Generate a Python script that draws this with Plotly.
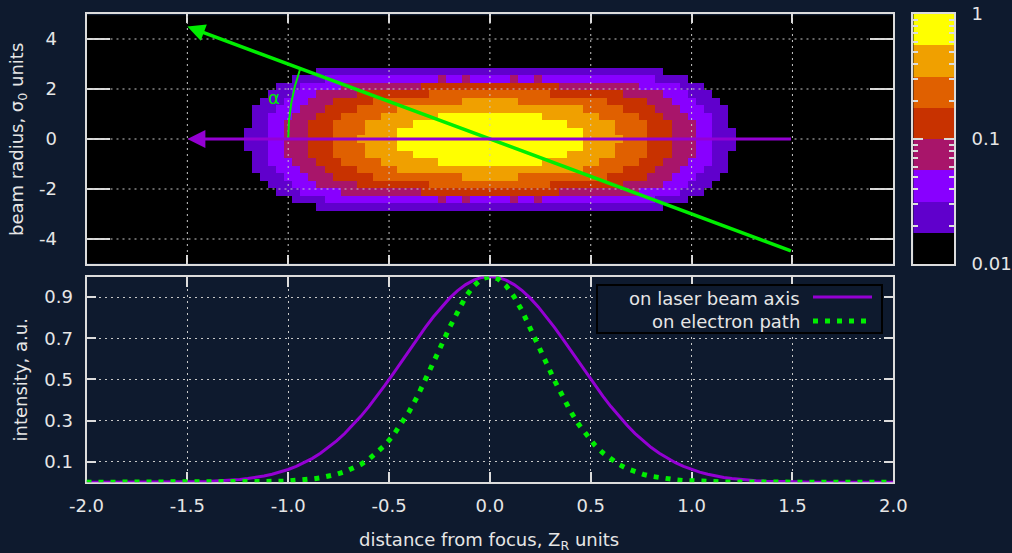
import numpy as np
import plotly.graph_objects as go

# ---------------- data ----------------
z_dist = [round(-2.0 + 0.04 * i, 2) for i in range(101)]

laser_axis = [0, 0, 0, 0, 0.0001, 0.0001, 0.0002, 0.0003, 0.0004, 0.0006,
              0.0008, 0.0012, 0.0016, 0.0023, 0.0032, 0.0043, 0.0059, 0.0079, 0.0106, 0.0140,
              0.0183, 0.0238, 0.0307, 0.0392, 0.0496, 0.0622, 0.0773, 0.0953, 0.1163, 0.1409,
              0.1690, 0.2010, 0.2369, 0.2768, 0.3205, 0.3679, 0.4185, 0.4718, 0.5273, 0.5841,
              0.6412, 0.6977, 0.7525, 0.8043, 0.8521, 0.8948, 0.9314, 0.9608, 0.9824, 0.9956,
              1.0,
              0.9956, 0.9824, 0.9608, 0.9314, 0.8948, 0.8521, 0.8043, 0.7525, 0.6977, 0.6412,
              0.5841, 0.5273, 0.4718, 0.4185, 0.3679, 0.3205, 0.2768, 0.2369, 0.2010, 0.1690,
              0.1409, 0.1163, 0.0953, 0.0773, 0.0622, 0.0496, 0.0392, 0.0307, 0.0238, 0.0183,
              0.0140, 0.0106, 0.0079, 0.0059, 0.0043, 0.0032, 0.0023, 0.0016, 0.0012, 0.0008,
              0.0006, 0.0004, 0.0003, 0.0002, 0.0001, 0.0001, 0, 0, 0, 0]

electron_path = [0, 0, 0, 0, 0, 0, 0, 0, 0, 0,
                 0, 0, 0.0001, 0.0001, 0.0002, 0.0002, 0.0003, 0.0004, 0.0006, 0.0009,
                 0.0013, 0.0018, 0.0025, 0.0035, 0.0048, 0.0066, 0.0089, 0.0121, 0.0163, 0.0219,
                 0.0292, 0.0387, 0.0510, 0.0667, 0.0867, 0.1118, 0.1429, 0.1810, 0.2270, 0.2815,
                 0.3447, 0.4163, 0.4954, 0.5799, 0.6669, 0.7526, 0.8325, 0.9013, 0.9547, 0.9885,
                 1.0,
                 0.9885, 0.9547, 0.9013, 0.8325, 0.7526, 0.6669, 0.5799, 0.4954, 0.4163, 0.3447,
                 0.2815, 0.2270, 0.1810, 0.1429, 0.1118, 0.0867, 0.0667, 0.0510, 0.0387, 0.0292,
                 0.0219, 0.0163, 0.0121, 0.0089, 0.0066, 0.0048, 0.0035, 0.0025, 0.0018, 0.0013,
                 0.0009, 0.0006, 0.0004, 0.0003, 0.0002, 0.0002, 0.0001, 0.0001, 0, 0,
                 0, 0, 0, 0, 0, 0, 0, 0, 0, 0]

# beam radius (sigma_0 units)
beam_width = [3.00, 2.92, 2.84, 2.77, 2.69, 2.62, 2.55, 2.48, 2.41, 2.34,
              2.28, 2.22, 2.16, 2.10, 2.04, 1.98, 1.92, 1.87, 1.82, 1.77,
              1.72, 1.67, 1.63, 1.58, 1.54, 1.50, 1.46, 1.42, 1.39, 1.35,
              1.32, 1.29, 1.26, 1.23, 1.20, 1.18, 1.16, 1.14, 1.12, 1.10,
              1.08, 1.06, 1.05, 1.04, 1.03, 1.02, 1.01, 1.01, 1.00, 1.00,
              1.00,
              1.00, 1.00, 1.01, 1.01, 1.02, 1.03, 1.04, 1.05, 1.06, 1.08,
              1.10, 1.12, 1.14, 1.16, 1.18, 1.20, 1.23, 1.26, 1.29, 1.32,
              1.35, 1.39, 1.42, 1.46, 1.50, 1.54, 1.58, 1.63, 1.67, 1.72,
              1.77, 1.82, 1.87, 1.92, 1.98, 2.04, 2.10, 2.16, 2.22, 2.28,
              2.34, 2.41, 2.48, 2.55, 2.62, 2.69, 2.77, 2.84, 2.92, 3.00]

r_grid = [round(-4.8 + 0.3 * i, 1) for i in range(33)]

x_ticks = [-2.0, -1.5, -1.0, -0.5, 0.0, 0.5, 1.0, 1.5, 2.0]
x_grid = [-1.5, -1.0, -0.5, 0.0, 0.5, 1.0, 1.5]
r_ticks = [-4, -2, 0, 2, 4]
int_ticks = [0.1, 0.3, 0.5, 0.7, 0.9]
cbar_major = [-2, -1, 0]
cbar_labels = ["0.01", "0.1", "1"]
band_colors = ["#000000", "#6000cc", "#8800ff", "#a8156a",
               "#c83200", "#e06000", "#f0a000", "#ffff00"]

electron_arrow_z = [1.5, -1.5]
electron_arrow_r = [-4.5, 4.5]
laser_arrow_z = [1.5, -1.5]
laser_arrow_r = [0.0, 0.0]

# ---------------- styling ----------------
BG = "#0e1a2e"
FG = "#e6e6e6"
FRAME = "#dcdcdc"
GRID = "#c8c8c8"
PURPLE = "#9400d3"
GREEN = "#00ee00"
FONT = "DejaVu Sans, Verdana, sans-serif"
W_PX, H_PX = 1012, 553


def px(x):
    return x / W_PX


def py(y):
    return 1 - y / H_PX


XDOM = [px(86.5), px(893.3)]
TOPDOM = [py(264), py(14)]
BOTDOM = [py(482.3), py(276.5)]
CBXDOM = [px(913.3), px(954)]

# heatmap field
A = np.array(laser_axis)
Wd = np.array(beam_width)
R = np.array(r_grid)[:, None]
I = A[None, :] * np.exp(-R ** 2 / (2 * Wd[None, :] ** 2))
logI = np.log10(np.maximum(I, 1e-6))

cs = []
n = len(band_colors)
for k, c in enumerate(band_colors):
    cs.append([k / n, c])
    cs.append([(k + 1) / n, c])

fig = go.Figure()
fig.add_trace(go.Heatmap(x=z_dist, y=r_grid, z=logI, zmin=-2, zmax=0,
                         colorscale=cs, showscale=False, zsmooth=False,
                         xaxis="x", yaxis="y", hoverinfo="skip"))

# bottom curves
fig.add_trace(go.Scatter(x=z_dist, y=laser_axis, mode="lines",
                         line=dict(color=PURPLE, width=3),
                         xaxis="x2", yaxis="y2", cliponaxis=False, showlegend=False))
fig.add_trace(go.Scatter(x=z_dist, y=electron_path, mode="lines",
                         line=dict(color=GREEN, width=5, dash="5px,7px"),
                         xaxis="x2", yaxis="y2", cliponaxis=False, showlegend=False))

# manual colorbar
band_centers = [-2 + 0.25 * (k + 0.5) for k in range(n)]
fig.add_trace(go.Heatmap(x=[0.5], y=band_centers, z=[[v] for v in band_centers],
                         zmin=-2, zmax=0, colorscale=cs, showscale=False,
                         xaxis="x3", yaxis="y3", hoverinfo="skip"))

minor_vals = [float(np.log10(m * 10.0 ** e)) for e in (-2, -1) for m in range(2, 10)]

axis_common = dict(showline=True, linecolor=FRAME, linewidth=2, mirror="ticks",
                   ticks="inside", tickcolor=FRAME, tickwidth=2, zeroline=False,
                   automargin=False)

fig.update_layout(
    width=W_PX, height=H_PX, autosize=False,
    margin=dict(l=0, r=0, t=0, b=0, pad=0, autoexpand=False),
    paper_bgcolor=BG, plot_bgcolor=BG,
    font=dict(family=FONT, size=18, color=FG),
    showlegend=False,
    xaxis=dict(domain=XDOM, anchor="y", range=[-2, 2], tickvals=x_ticks,
               showticklabels=False, ticklen=9, showgrid=False,
               layer="above traces", **axis_common),
    yaxis=dict(domain=TOPDOM, anchor="x", range=[-5, 5], tickvals=r_ticks,
               ticktext=[str(v) for v in r_ticks],
               ticklen=23, showgrid=False, layer="above traces",
               ticklabelstandoff=24, **axis_common),
    xaxis2=dict(domain=XDOM, anchor="y2", range=[-2, 2], tickvals=x_ticks,
                ticktext=[f"{v:.1f}" for v in x_ticks], ticklen=10,
                showgrid=True, gridcolor=GRID, gridwidth=1, griddash="2px,4px",
                layer="below traces", ticklabelstandoff=6, **axis_common),
    yaxis2=dict(domain=BOTDOM, anchor="x2", range=[0, 1], tickvals=int_ticks,
                ticktext=[f"{v:.1f}" for v in int_ticks], ticklen=9,
                showgrid=True, gridcolor=GRID, gridwidth=1, griddash="2px,4px",
                layer="below traces", ticklabelstandoff=8, **axis_common),
    xaxis3=dict(domain=CBXDOM, anchor="y3", range=[0, 1], showticklabels=False,
                ticks="", showline=True, linecolor=FRAME, linewidth=2, mirror=True,
                showgrid=False, zeroline=False, automargin=False),
    yaxis3=dict(domain=TOPDOM, anchor="x3", range=[-2, 0], side="right",
                tickvals=cbar_major, ticktext=cbar_labels, ticklen=10,
                showgrid=False, layer="above traces", ticklabelstandoff=12,
                minor=dict(tickvals=minor_vals, ticks="inside", ticklen=5,
                           tickcolor=FRAME, tickwidth=2, showgrid=False),
                **axis_common),
)

shapes = []
# dotted grid drawn over the intensity map
for xv in x_grid:
    shapes.append(dict(type="line", xref="x", yref="y", x0=xv, x1=xv, y0=-5, y1=5,
                       line=dict(color=GRID, width=1, dash="2px,4px"), layer="above"))
for rv in r_ticks:
    shapes.append(dict(type="line", xref="x", yref="y", x0=-2, x1=2, y0=rv, y1=rv,
                       line=dict(color=GRID, width=1, dash="2px,4px"), layer="above"))
# angle arc
shapes.append(dict(type="path", xref="x", yref="y",
                   path="M -1.0,0 Q -1.0,1.45 -0.94,2.82",
                   line=dict(color=GREEN, width=2), layer="above"))
# legend box and keys
shapes.append(dict(type="rect", xref="paper", yref="paper",
                   x0=px(597), x1=px(882), y0=py(333), y1=py(285),
                   line=dict(color="#000000", width=2), fillcolor=BG, layer="above"))
shapes.append(dict(type="line", xref="paper", yref="paper",
                   x0=px(813), x1=px(872), y0=py(297), y1=py(297),
                   line=dict(color=PURPLE, width=3), layer="above"))
shapes.append(dict(type="line", xref="paper", yref="paper",
                   x0=px(813), x1=px(870), y0=py(321), y1=py(321),
                   line=dict(color=GREEN, width=5, dash="5px,7px"), layer="above"))
fig.update_layout(shapes=shapes)

ann = []
ann.append(dict(x=electron_arrow_z[1], y=electron_arrow_r[1], xref="x", yref="y",
                ax=electron_arrow_z[0], ay=electron_arrow_r[0], axref="x", ayref="y",
                text="", showarrow=True, arrowhead=2, arrowsize=1.0, arrowwidth=3.5,
                arrowcolor=GREEN, standoff=0, startstandoff=0))
ann.append(dict(x=laser_arrow_z[1], y=laser_arrow_r[1], xref="x", yref="y",
                ax=laser_arrow_z[0], ay=laser_arrow_r[0], axref="x", ayref="y",
                text="", showarrow=True, arrowhead=2, arrowsize=1.2, arrowwidth=3,
                arrowcolor=PURPLE, standoff=0, startstandoff=0))
ann.append(dict(x=-1.07, y=1.65, xref="x", yref="y", text="α", showarrow=False,
                xanchor="center", yanchor="middle",
                font=dict(color=GREEN, size=18)))
ann.append(dict(x=px(18), y=py(140), xref="paper", yref="paper", textangle=-90,
                xanchor="center", yanchor="middle",
                text="beam radius, σ<sub>0</sub> units", showarrow=False))
ann.append(dict(x=px(19.5), y=py(380), xref="paper", yref="paper", textangle=-90,
                xanchor="center", yanchor="middle",
                text="intensity, a.u.", showarrow=False))
ann.append(dict(x=px(489), y=py(541), xref="paper", yref="paper",
                xanchor="center", yanchor="middle",
                text="distance from focus, Z<sub>R</sub> units", showarrow=False))
ann.append(dict(x=px(802), y=py(298), xref="paper", yref="paper", xanchor="right",
                yanchor="middle", text="on laser beam axis", showarrow=False))
ann.append(dict(x=px(802), y=py(321), xref="paper", yref="paper", xanchor="right",
                yanchor="middle", text="on electron path", showarrow=False))
fig.update_layout(annotations=ann)

fig.write_html("out.html", config={"displayModeBar": False},
               post_script="document.body.style.margin='0px';document.body.style.padding='0px';")
